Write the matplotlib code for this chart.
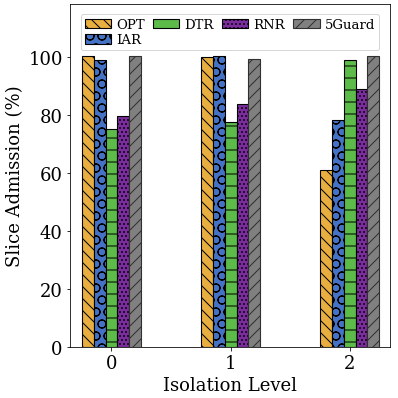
import matplotlib.pyplot as plt
import numpy as np

plt.rcParams['font.family'] = 'DejaVu Serif'
plt.rcParams['hatch.linewidth'] = 1.0

levels = [0, 1, 2]
methods = ['OPT', 'IAR', 'DTR', 'RNR', '5Guard']
opt = [100.5, 100.0, 61.2]
iar = [99.0, 100.5, 78.4]
dtr = [75.3, 77.7, 99.2]
rnr = [79.8, 83.8, 89.2]
guard = [100.5, 99.6, 100.5]

values = [opt, iar, dtr, rnr, guard]
colors = ['#E8AE40', '#4472C4', '#5DBB4A', '#7B2D9E', '#808080']
hatches = ['\\\\', 'O', '-', '...', '//']
edges = ['black', 'black', 'black', 'black', '#303030']

fig, ax = plt.subplots(figsize=(5.54, 5.54), dpi=72)
x = np.arange(len(levels))
w = 0.1
for i, (name, vals) in enumerate(zip(methods, values)):
    ax.bar(x + (i - 2) * w, vals, w, color=colors[i], hatch=hatches[i],
           edgecolor=edges[i], linewidth=1.1, label=name)

ax.set_xticks(x)
ax.set_xticklabels([str(l) for l in levels], fontsize=18)
ax.tick_params(axis='y', labelsize=18)
ax.set_ylim(0, 118.5)
ax.set_xlim(-0.35, 2.34)
ax.set_xlabel('Isolation Level', fontsize=18)
ax.set_ylabel('Slice Admission (%)', fontsize=18)
ax.legend(ncol=4, loc='upper center', bbox_to_anchor=(0.5, 0.99), fontsize=13.2,
          handlelength=2.0, columnspacing=0.6, handletextpad=0.4,
          borderpad=0.3, labelspacing=0.2)

plt.subplots_adjust(left=0.175, right=0.978, top=0.988, bottom=0.128)
plt.savefig('out.png')
